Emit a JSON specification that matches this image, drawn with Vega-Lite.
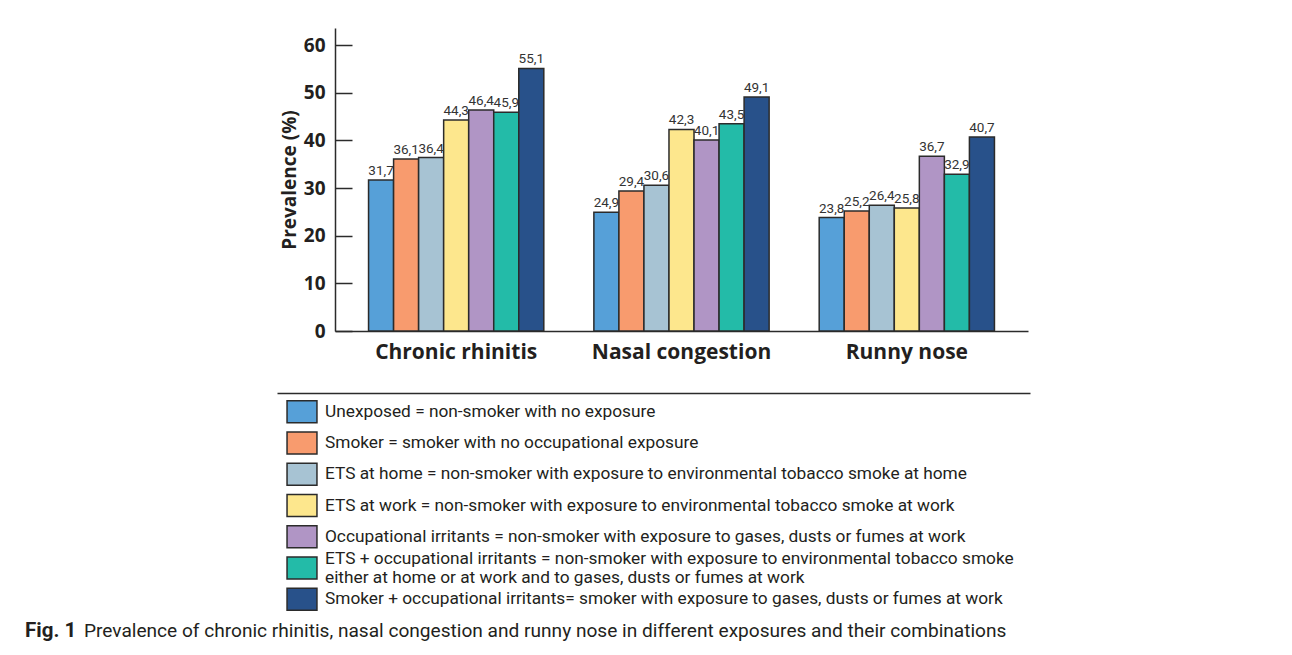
{
  "$schema": "https://vega.github.io/schema/vega-lite/v6.json",
  "padding": {"left": 25, "top": 28, "right": 0, "bottom": 0},
  "autosize": {"type": "pad"},
  "background": "white",
  "config": {
    "locale": {"number": {"decimal": ",", "thousands": ".", "grouping": [3], "currency": ["", " €"]}},
    "view": {"stroke": null}
  },
  "spacing": 3,
  "center": true,
  "vconcat": [
    {
      "spacing": 31,
      "vconcat": [
        {
          "width": 751,
          "height": 303,
          "data": {"values": [
            {"symptom": "Chronic rhinitis", "exposure": "Unexposed", "prevalence": 31.7},
            {"symptom": "Chronic rhinitis", "exposure": "Smoker", "prevalence": 36.1},
            {"symptom": "Chronic rhinitis", "exposure": "ETS at home", "prevalence": 36.4},
            {"symptom": "Chronic rhinitis", "exposure": "ETS at work", "prevalence": 44.3},
            {"symptom": "Chronic rhinitis", "exposure": "Occupational irritants", "prevalence": 46.4},
            {"symptom": "Chronic rhinitis", "exposure": "ETS + occupational irritants", "prevalence": 45.9},
            {"symptom": "Chronic rhinitis", "exposure": "Smoker + occupational irritants", "prevalence": 55.1},
            {"symptom": "Nasal congestion", "exposure": "Unexposed", "prevalence": 24.9},
            {"symptom": "Nasal congestion", "exposure": "Smoker", "prevalence": 29.4},
            {"symptom": "Nasal congestion", "exposure": "ETS at home", "prevalence": 30.6},
            {"symptom": "Nasal congestion", "exposure": "ETS at work", "prevalence": 42.3},
            {"symptom": "Nasal congestion", "exposure": "Occupational irritants", "prevalence": 40.1},
            {"symptom": "Nasal congestion", "exposure": "ETS + occupational irritants", "prevalence": 43.5},
            {"symptom": "Nasal congestion", "exposure": "Smoker + occupational irritants", "prevalence": 49.1},
            {"symptom": "Runny nose", "exposure": "Unexposed", "prevalence": 23.8},
            {"symptom": "Runny nose", "exposure": "Smoker", "prevalence": 25.2},
            {"symptom": "Runny nose", "exposure": "ETS at home", "prevalence": 26.4},
            {"symptom": "Runny nose", "exposure": "ETS at work", "prevalence": 25.8},
            {"symptom": "Runny nose", "exposure": "Occupational irritants", "prevalence": 36.7},
            {"symptom": "Runny nose", "exposure": "ETS + occupational irritants", "prevalence": 32.9},
            {"symptom": "Runny nose", "exposure": "Smoker + occupational irritants", "prevalence": 40.7}
          ]},
          "encoding": {
            "x": {
              "field": "symptom", "type": "nominal",
              "sort": ["Chronic rhinitis", "Nasal congestion", "Runny nose"],
              "scale": {"range": [58, 751], "paddingInner": 0.2222, "paddingOuter": 0.1489},
              "axis": {
                "title": null, "labelAngle": 0, "ticks": false,
                "domainColor": "#2b2b2b", "domainWidth": 1.5,
                "labelFont": "Open Sans", "labelFontSize": 21, "labelFontWeight": "bold",
                "labelColor": "#231f20", "labelPadding": 10
              }
            },
            "xOffset": {
              "field": "exposure", "type": "nominal",
              "sort": ["Unexposed", "Smoker", "ETS at home", "ETS at work", "Occupational irritants", "ETS + occupational irritants", "Smoker + occupational irritants"],
              "scale": {"paddingInner": 0, "paddingOuter": 0}
            },
            "y": {
              "field": "prevalence", "type": "quantitative",
              "scale": {"domain": [0, 63.6], "nice": false},
              "axis": {
                "values": [0, 10, 20, 30, 40, 50, 60],
                "offset": -58,
                "title": "Prevalence (%)", "grid": false,
                "tickSize": -17, "tickColor": "#2b2b2b", "tickWidth": 1.5,
                "domainColor": "#2b2b2b", "domainWidth": 1.5,
                "labelFont": "Open Sans", "labelFontSize": 19, "labelFontWeight": "bold",
                "labelColor": "#231f20", "labelPadding": 27,
                "titleFont": "Open Sans", "titleFontSize": 19, "titleFontWeight": "bold",
                "titleColor": "#231f20", "titlePadding": 4
              }
            }
          },
          "layer": [
            {
              "mark": {"type": "bar", "stroke": "#2b2b2b", "strokeWidth": 1.5},
              "encoding": {
                "color": {
                  "field": "exposure", "type": "nominal",
                  "scale": {
                    "domain": ["Unexposed", "Smoker", "ETS at home", "ETS at work", "Occupational irritants", "ETS + occupational irritants", "Smoker + occupational irritants"],
                    "range": ["#56a0d8", "#f89b6e", "#a7c3d3", "#fde78d", "#b095c5", "#23bba8", "#28518a"]
                  },
                  "legend": null
                }
              }
            },
            {
              "mark": {"type": "text", "baseline": "bottom", "dy": -2, "font": "Roboto", "fontSize": 13.5, "color": "#333333"},
              "encoding": {"text": {"field": "prevalence", "type": "quantitative", "format": ".1f"}}
            }
          ]
        },
        {
          "width": 753,
          "height": 225,
          "data": {"values": [
            {"exposure": "Unexposed", "description": "Unexposed = non-smoker with no exposure"},
            {"exposure": "Smoker", "description": "Smoker = smoker with no occupational exposure"},
            {"exposure": "ETS at home", "description": "ETS at home = non-smoker with exposure to environmental tobacco smoke at home"},
            {"exposure": "ETS at work", "description": "ETS at work = non-smoker with exposure to environmental tobacco smoke at work"},
            {"exposure": "Occupational irritants", "description": "Occupational irritants = non-smoker with exposure to gases, dusts or fumes at work"},
            {"exposure": "ETS + occupational irritants", "description": "ETS + occupational irritants = non-smoker with exposure to environmental tobacco smoke\neither at home or at work and to gases, dusts or fumes at work"},
            {"exposure": "Smoker + occupational irritants", "description": "Smoker + occupational irritants= smoker with exposure to gases, dusts or fumes at work"}
          ]},
          "encoding": {
            "y": {"field": "exposure", "type": "nominal", "sort": null, "scale": {"type": "point", "padding": 0.6}, "axis": null}
          },
          "layer": [
            {
              "mark": {"type": "point", "shape": "M-1.36,-1H1.36V1H-1.36Z", "size": 484, "filled": true, "opacity": 1, "stroke": "#2b2b2b", "strokeWidth": 1.5},
              "encoding": {
                "x": {"datum": 0.0332, "type": "quantitative", "scale": {"domain": [0, 1]},
                  "axis": {"orient": "top", "title": null, "labels": false, "ticks": false, "grid": false, "domainColor": "#2b2b2b", "domainWidth": 1.5}},
                "color": {
                  "field": "exposure", "type": "nominal",
                  "scale": {
                    "domain": ["Unexposed", "Smoker", "ETS at home", "ETS at work", "Occupational irritants", "ETS + occupational irritants", "Smoker + occupational irritants"],
                    "range": ["#56a0d8", "#f89b6e", "#a7c3d3", "#fde78d", "#b095c5", "#23bba8", "#28518a"]
                  },
                  "legend": null
                }
              }
            },
            {
              "transform": [{"filter": "indexof(datum.description, '\\n') < 0"}],
              "mark": {"type": "text", "align": "left", "baseline": "middle", "font": "Roboto", "fontSize": 17.3, "color": "#231f20"},
              "encoding": {
                "x": {"datum": 0.0637, "type": "quantitative"},
                "text": {"field": "description"}
              }
            },
            {
              "transform": [{"filter": "indexof(datum.description, '\\n') >= 0"}],
              "mark": {"type": "text", "align": "left", "baseline": "middle", "lineBreak": "\n", "lineHeight": 19, "dy": -9, "font": "Roboto", "fontSize": 17.3, "color": "#231f20"},
              "encoding": {
                "x": {"datum": 0.0637, "type": "quantitative"},
                "text": {"field": "description"}
              }
            }
          ]
        }
      ]
    },
    {
      "width": 1257,
      "height": 20,
      "layer": [
        {
          "data": {"values": [{"caption": "Fig. 1"}]},
          "mark": {"type": "text", "align": "left", "baseline": "middle", "font": "Roboto", "fontSize": 20.5, "fontWeight": "bold", "color": "#231f20"},
          "encoding": {
            "x": {"datum": 0, "type": "quantitative", "scale": {"domain": [0, 1]}, "axis": null},
            "text": {"field": "caption"}
          }
        },
        {
          "data": {"values": [{"caption": "Prevalence of chronic rhinitis, nasal congestion and runny nose in different exposures and their combinations"}]},
          "mark": {"type": "text", "align": "left", "baseline": "middle", "font": "Roboto", "fontSize": 19.1, "color": "#231f20"},
          "encoding": {
            "x": {"datum": 0.0469, "type": "quantitative"},
            "text": {"field": "caption"}
          }
        }
      ]
    }
  ]
}
